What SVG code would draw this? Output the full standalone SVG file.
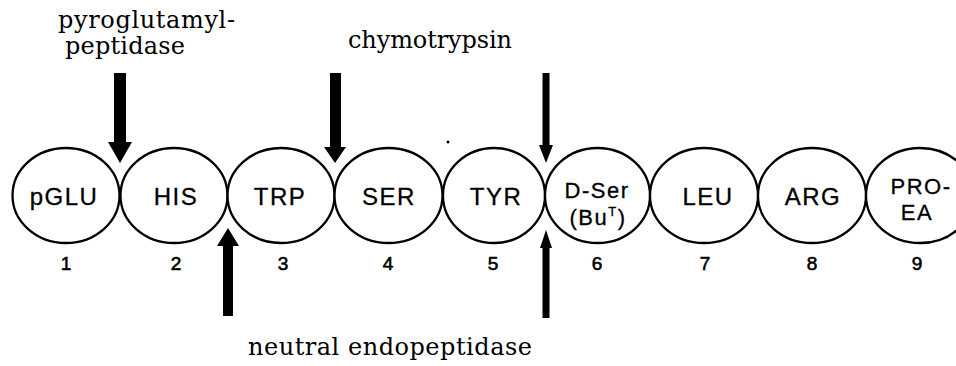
<svg xmlns="http://www.w3.org/2000/svg" width="956" height="366" viewBox="0 0 956 366">
<style>
.res{fill:#fff;stroke:#000;stroke-width:2.3}
.lab{font-family:"Liberation Sans",Arial,sans-serif;font-size:24px;fill:#000;stroke:#000;stroke-width:0.3;text-anchor:middle;letter-spacing:1.5px}
.lab2{font-family:"Liberation Sans",Arial,sans-serif;font-size:22px;fill:#000;stroke:#000;stroke-width:0.3;text-anchor:middle;letter-spacing:1.5px}
.num{font-family:"Liberation Sans",Arial,sans-serif;font-size:19px;fill:#000;stroke:#000;stroke-width:0.6;text-anchor:middle}
.enz{font-family:"DejaVu Serif","Liberation Serif",serif;font-size:24px;fill:#000}
.arr{fill:#000;stroke:none}
</style>
<rect width="956" height="366" fill="#fff"/>
<g id="n1"><ellipse class="res" cx="66" cy="195.5" rx="53.5" ry="47.5"/><text class="lab" x="64" y="205">pGLU</text><text class="num" x="66" y="270">1</text></g>
<g id="n2"><ellipse class="res" cx="174" cy="195.5" rx="53.5" ry="47.5"/><text class="lab" x="176" y="205">HIS</text><text class="num" x="176" y="270">2</text></g>
<g id="n3"><ellipse class="res" cx="281" cy="195.5" rx="53.5" ry="47.5"/><text class="lab" x="280" y="205">TRP</text><text class="num" x="283" y="270">3</text></g>
<g id="n4"><ellipse class="res" cx="388.5" cy="195.5" rx="54" ry="47.5"/><text class="lab" x="389" y="205">SER</text><text class="num" x="388" y="270">4</text></g>
<g id="n5"><ellipse class="res" cx="494" cy="195.5" rx="51" ry="47.5"/><text class="lab" x="496" y="205">TYR</text><text class="num" x="493" y="270">5</text></g>
<g id="n6"><ellipse class="res" cx="597.5" cy="195.5" rx="52.5" ry="47.5"/><text class="lab2" x="597" y="198">D-Ser</text><text class="lab2" x="598" y="225">(Bu<tspan font-size="13" dy="-9">T</tspan><tspan dy="9">)</tspan></text><text class="num" x="597" y="270">6</text></g>
<g id="n7"><ellipse class="res" cx="704" cy="195.5" rx="54" ry="47.5"/><text class="lab" x="708" y="205">LEU</text><text class="num" x="705" y="270">7</text></g>
<g id="n8"><ellipse class="res" cx="812" cy="195.5" rx="54" ry="47.5"/><text class="lab" x="813" y="205">ARG</text><text class="num" x="812" y="270">8</text></g>
<g id="n9"><ellipse class="res" cx="920" cy="195.5" rx="54" ry="47.5"/><text class="lab2" x="921" y="194">PRO-</text><text class="lab2" x="917" y="220">EA</text><text class="num" x="917" y="270">9</text></g>
<g id="connectors">
<path class="arr" d="M114,73 H126 V142 H132 L120,163 L108,142 H114 Z"/>
<path class="arr" d="M330,73 H341 V147 H346 L335,163 L324,147 H330 Z"/>
<path class="arr" d="M542.5,73 H549.5 V145 H553 L546,163 L539,145 H542.5 Z"/>
<path class="arr" d="M228,228 L239,246 H233 V316 H223 V246 H217 Z"/>
<path class="arr" d="M546,230 L552,248 H549.5 V318 H542.5 V248 H540 Z"/>
</g>
<g id="labels">
<text class="enz" x="58" y="28" textLength="177" lengthAdjust="spacing">pyroglutamyl-</text>
<text class="enz" x="65" y="54" textLength="120" lengthAdjust="spacing">peptidase</text>
<text class="enz" x="348" y="48" textLength="164" lengthAdjust="spacing">chymotrypsin</text>
<text class="enz" x="248" y="355" textLength="284" lengthAdjust="spacing">neutral endopeptidase</text>
</g>
<circle cx="448" cy="142" r="1.5" fill="#000"/>
</svg>
